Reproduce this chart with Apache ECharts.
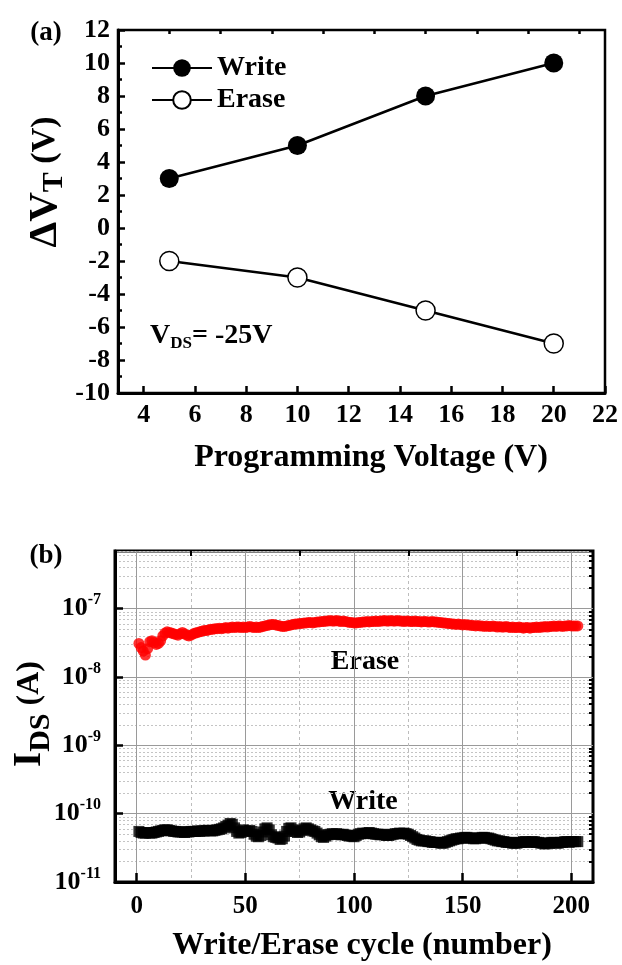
<!DOCTYPE html>
<html>
<head>
<meta charset="utf-8">
<script src="https://cdn.jsdelivr.net/npm/echarts@6/dist/echarts.min.js"></script>
<style>
  html, body { margin: 0; padding: 0; background: #fff; }
  #chart { width: 622px; height: 965px; }
</style>
</head>
<body>
<div id="chart"></div>
<script>
// (a) threshold shift vs programming voltage
var voltages = [5, 10, 15, 20];
var writeShift = [3, 5, 8, 10];
var eraseShift = [-2, -3, -5, -7];
var aTicksX = [4, 6, 8, 10, 12, 14, 16, 18, 20, 22];
var aMinorX = [5, 7, 9, 11, 13, 15, 17, 19, 21];

// (b) endurance, one point per cycle starting at cycle 1
var cycleStart = 1;
// erase current in nA
var eraseNA = [
  31, 27, 24, 21, 26, 33, 34, 32, 30, 31, 34, 40, 44, 46, 45, 44, 43, 42, 41, 43,
  45, 43, 41, 40, 41, 43, 44, 45, 46, 47, 48, 48, 49, 50, 50, 51, 51, 52, 51, 52,
  53, 52, 53, 54, 53, 54, 54, 53, 54, 53, 54, 55, 54, 53, 54, 53, 54, 55, 56, 57,
  58, 59, 59, 58, 57, 56, 55, 55, 56, 57, 58, 59, 60, 60, 61, 61, 62, 62, 63, 63,
  62, 63, 64, 64, 65, 65, 66, 66, 67, 66, 66, 67, 66, 65, 66, 65, 64, 63, 63, 62,
  62, 63, 63, 64, 64, 65, 64, 65, 65, 66, 65, 66, 66, 67, 66, 66, 67, 66, 66, 67,
  66, 66, 65, 66, 66, 65, 65, 66, 65, 65, 64, 65, 65, 64, 64, 65, 64, 64, 63, 63,
  62, 62, 61, 61, 60, 60, 59, 60, 59, 58, 59, 58, 58, 57, 57, 56, 57, 56, 56, 55,
  56, 55, 55, 56, 55, 54, 55, 54, 54, 55, 54, 53, 54, 53, 53, 54, 53, 52, 53, 53,
  52, 53, 53, 54, 53, 54, 54, 55, 54, 55, 55, 56, 55, 56, 56, 55, 56, 56, 57, 56,
  56, 56, 56
];
// write current in pA
var writePA = [
  55, 53, 52, 52, 53, 52, 52, 53, 54, 55, 56, 57, 58, 58, 57, 56, 55, 55, 54, 54,
  54, 53, 54, 54, 55, 55, 55, 56, 55, 56, 56, 57, 57, 56, 56, 57, 58, 59, 60, 62,
  65, 68, 72, 70, 62, 55, 52, 53, 58, 56, 55, 57, 55, 50, 47, 46, 48, 54, 60, 62,
  58, 49, 46, 45, 44, 42, 43, 47, 55, 61, 62, 58, 55, 53, 54, 57, 60, 62, 60, 58,
  56, 55, 52, 49, 46, 45, 47, 49, 50, 51, 50, 51, 50, 49, 50, 49, 48, 47, 47, 46,
  48, 50, 51, 52, 51, 52, 53, 52, 51, 50, 50, 49, 50, 49, 48, 48, 49, 50, 51, 51,
  52, 51, 52, 51, 50, 48, 46, 44, 42, 41, 40, 40, 40, 39, 39, 38, 38, 38, 38, 37,
  37, 38, 39, 40, 41, 42, 43, 43, 44, 44, 45, 45, 44, 44, 43, 43, 44, 44, 45, 45,
  44, 44, 43, 42, 41, 40, 40, 39, 39, 38, 38, 38, 37, 37, 37, 38, 38, 39, 39, 38,
  38, 39, 39, 38, 38, 37, 37, 36, 37, 37, 38, 38, 37, 37, 38, 38, 39, 39, 38, 39,
  39, 39, 39
];
var bTicksX = [0, 50, 100, 150, 200];
var bMinorX = [25, 75, 125, 175];
var decades = [1e-11, 1e-10, 1e-9, 1e-8, 1e-7];
var mult = [2, 3, 4, 5, 6, 7, 8, 9];
var yMaxB = 7e-7;

var minorY = [];
decades.forEach(function (d) {
  mult.forEach(function (m) {
    if (m * d <= yMaxB * 1.0001) minorY.push(m * d);
  });
});

var FONT = "'Liberation Serif', 'Times New Roman', serif";
var black = '#000';

function lbl(size, extra) {
  var o = { color: black, fontFamily: FONT, fontWeight: 'bold', fontSize: size };
  for (var k in extra) o[k] = extra[k];
  return o;
}

var chart = echarts.init(document.getElementById('chart'));

var option = {
  animation: false,
  backgroundColor: '#fff',
  grid: [
    { left: 118, top: 30, width: 487, height: 363, containLabel: false,
      show: true, borderColor: black, borderWidth: 2.5, backgroundColor: 'transparent' },
    { left: 115, top: 551, width: 478, height: 331, containLabel: false,
      show: true, borderColor: black, borderWidth: 3, backgroundColor: 'transparent' }
  ],
  legend: {
    data: ['Write', 'Erase'],
    orient: 'vertical',
    left: 146,
    top: 49,
    itemWidth: 60,
    itemHeight: 22,
    itemGap: 4,
    textStyle: lbl(28)
  },
  xAxis: [
    { gridIndex: 0, type: 'value', min: 3, max: 22,
      axisLine: { show: true, onZero: false, lineStyle: { color: black, width: 3 } },
      axisTick: { show: true, inside: true, length: 7, customValues: aTicksX, lineStyle: { color: black, width: 2.5 } },
      axisLabel: lbl(26, { margin: 9, customValues: aTicksX }),
      splitLine: { show: false } },
    { gridIndex: 0, type: 'value', min: 3, max: 22,
      axisLine: { show: false, onZero: false },
      axisTick: { show: true, inside: true, length: 4, customValues: aMinorX, lineStyle: { color: black, width: 2.5 } },
      axisLabel: { show: false },
      splitLine: { show: false } },
    { gridIndex: 1, type: 'value', min: -10, max: 210,
      axisLine: { show: true, onZero: false, lineStyle: { color: black, width: 3 } },
      axisTick: { show: true, inside: true, length: 9, customValues: bTicksX, lineStyle: { color: black, width: 2.5 } },
      axisLabel: lbl(25, { margin: 12, customValues: bTicksX }),
      splitLine: { show: true, lineStyle: { color: '#9a9a9a', width: 1 } } },
    { gridIndex: 1, type: 'value', min: -10, max: 210,
      axisLine: { show: false, onZero: false },
      axisTick: { show: true, inside: true, length: 5, customValues: bMinorX, lineStyle: { color: black, width: 2 } },
      axisLabel: { show: false },
      splitLine: { show: true, lineStyle: { color: '#bdbdbd', width: 1, type: [3, 3] } } }
  ],
  yAxis: [
    { gridIndex: 0, type: 'value', min: -10, max: 12, interval: 2,
      axisLine: { show: true, onZero: false, lineStyle: { color: black, width: 3 } },
      axisTick: { show: true, inside: true, length: 7, lineStyle: { color: black, width: 2.5 } },
      minorTick: { show: true, splitNumber: 2, length: 4, lineStyle: { color: black, width: 2.5 } },
      axisLabel: lbl(26, { margin: 8 }),
      splitLine: { show: false } },
    { gridIndex: 1, type: 'log', logBase: 10, min: 1e-11, max: yMaxB,
      axisLine: { show: true, onZero: false, lineStyle: { color: black, width: 3 } },
      axisTick: { show: true, inside: true, length: 8, lineStyle: { color: black, width: 2.5 } },
      axisLabel: {
        margin: 14,
        showMaxLabel: false,
        formatter: function (v) {
          var e = Math.round(Math.log(v) / Math.LN10);
          return '{b|10}{s|' + e + '}';
        },
        rich: {
          b: lbl(26),
          s: lbl(16, { padding: [0, 0, 17, 0] })
        }
      },
      splitLine: { show: true, lineStyle: { color: '#9a9a9a', width: 1 } } },
    { gridIndex: 1, type: 'log', logBase: 10, min: 1e-11, max: yMaxB,
      axisLine: { show: false, onZero: false },
      axisTick: { show: true, inside: true, length: 4, customValues: minorY, lineStyle: { color: black, width: 2 } },
      axisLabel: { show: false },
      splitLine: { show: true, lineStyle: { color: '#c4c4c4', width: 1, type: [2, 2] } } }
  ],
  series: [
    { name: 'Write', type: 'line', xAxisIndex: 0, yAxisIndex: 0,
      data: voltages.map(function (v, i) { return [v, writeShift[i]]; }),
      symbol: 'circle', symbolSize: 19,
      itemStyle: { color: black },
      lineStyle: { color: black, width: 2.5 } },
    { name: 'Erase', type: 'line', xAxisIndex: 0, yAxisIndex: 0,
      data: voltages.map(function (v, i) { return [v, eraseShift[i]]; }),
      symbol: 'circle', symbolSize: 19,
      itemStyle: { color: '#fff', borderColor: black, borderWidth: 1.5 },
      lineStyle: { color: black, width: 2.5 } },
    { name: 'Erase current', type: 'scatter', xAxisIndex: 2, yAxisIndex: 1,
      data: eraseNA.map(function (v, i) { return [cycleStart + i, v * 1e-9]; }),
      symbol: 'circle', symbolSize: 11,
      itemStyle: { color: '#ff0000' } },
    { name: 'Write current', type: 'scatter', xAxisIndex: 2, yAxisIndex: 1,
      data: writePA.map(function (v, i) { return [cycleStart + i, v * 1e-12]; }),
      symbol: 'rect', symbolSize: 11,
      itemStyle: { color: black } }
  ],
  graphic: [
    { type: 'text', x: 46, y: 33, style: { text: '(a)', font: 'bold 27px ' + FONT, fill: black, align: 'center', verticalAlign: 'middle' } },
    { type: 'text', x: 45, y: 182, rotation: Math.PI / 2,
      style: { text: '{a|ΔV}{t|T}{b| (V)}', align: 'center', verticalAlign: 'middle',
        rich: { a: lbl(41), t: lbl(30, { padding: [18, 0, 0, 0] }), b: lbl(34) } } },
    { type: 'text', x: 371, y: 458, style: { text: 'Programming Voltage (V)', font: 'bold 32px ' + FONT, fill: black, align: 'center', verticalAlign: 'middle' } },
    { type: 'text', x: 150, y: 336,
      style: { text: '{v|V}{s|DS}{v|= -25V}', align: 'left', verticalAlign: 'middle',
        rich: { v: lbl(28), s: lbl(17, { padding: [16, 0, 0, 0] }) } } },
    { type: 'text', x: 46, y: 556, style: { text: '(b)', font: 'bold 27px ' + FONT, fill: black, align: 'center', verticalAlign: 'middle' } },
    { type: 'text', x: 30, y: 714, rotation: Math.PI / 2,
      style: { text: '{a|I}{s|DS}{b| (A)}', align: 'center', verticalAlign: 'middle',
        rich: { a: lbl(39), s: lbl(30, { padding: [22, 0, 0, 0] }), b: lbl(32) } } },
    { type: 'text', x: 362, y: 946, style: { text: 'Write/Erase cycle (number)', font: 'bold 32px ' + FONT, fill: black, align: 'center', verticalAlign: 'middle' } },
    { type: 'text', x: 365, y: 662, style: { text: 'Erase', font: 'bold 28px ' + FONT, fill: black, align: 'center', verticalAlign: 'middle' } },
    { type: 'text', x: 363, y: 802, style: { text: 'Write', font: 'bold 28px ' + FONT, fill: black, align: 'center', verticalAlign: 'middle' } }
  ]
};

chart.setOption(option);
</script>
</body>
</html>
